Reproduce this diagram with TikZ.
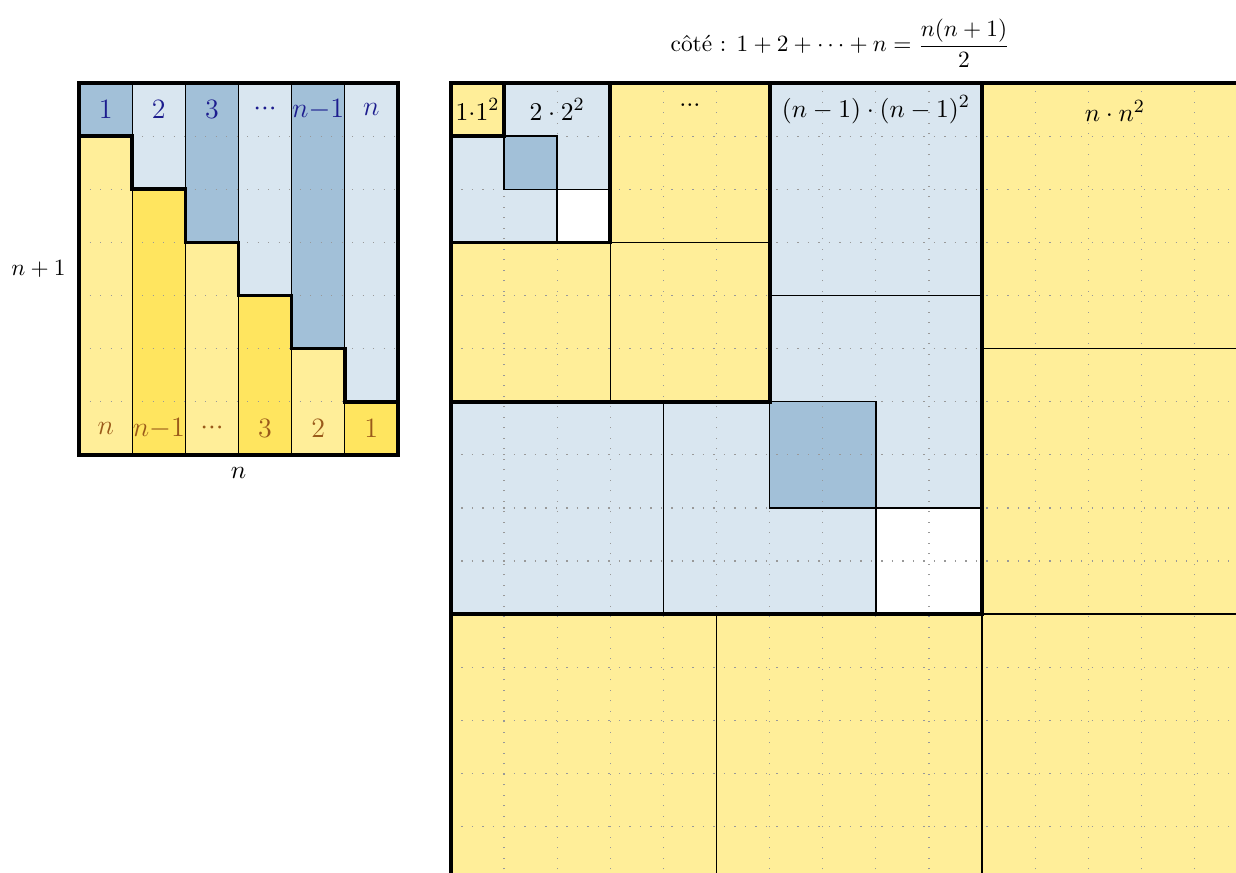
\documentclass[tikz,border=0pt]{standalone}
\usepackage{fontspec}
\usepackage{amsmath}
\usepackage{amssymb}

\definecolor{bleuclair}{HTML}{D9E6F0}
\definecolor{bleufonce}{HTML}{A2C0D8}
\definecolor{jauneclair}{HTML}{FFEE99}
\definecolor{jaunefonce}{HTML}{FFE55F}
\definecolor{textebleu}{HTML}{1C1C8E}
\definecolor{textebrun}{HTML}{9A5A1A}

\newcommand{\pointsp}{{\cdot}{\cdot}{\cdot}}

\begin{document}
\begin{tikzpicture}[scale=0.8,
        trait/.style={line width=1.6pt},
        fin/.style={line width=0.6pt},
        grille/.style={gray!80, loosely dotted, line width=0.5pt},
        etiq/.style={font=\fontsize{10.95}{13}\selectfont}]
        \useasboundingbox (-8.49,-14.86) rectangle (14.78,1.563);

        % Rectangle n x (n+1) : colonnes bleues et jaunes
        \foreach \i/\cb/\cj in {1/bleufonce/jauneclair, 2/bleuclair/jaunefonce,
                3/bleufonce/jauneclair, 4/bleuclair/jaunefonce,
                5/bleufonce/jauneclair, 6/bleuclair/jaunefonce} {
            \fill[\cb] (\i-8,0) rectangle (\i-7,-\i);
            \fill[\cj] (\i-8,-\i) rectangle (\i-7,-7);
        }
        \draw[grille] (-7,-7) grid (-1,0);
        \foreach \x in {-6,...,-2}
            \draw[fin] (\x,0) -- (\x,-7);
        % Escalier
        \draw[trait] (-7,-1) -- (-6,-1) -- (-6,-2) -- (-5,-2) -- (-5,-3) -- (-4,-3)
            -- (-4,-4) -- (-3,-4) -- (-3,-5) -- (-2,-5) -- (-2,-6) -- (-1,-6);
        \draw[trait] (-7,-7) rectangle (-1,0);

        % Texte des colonnes
        \foreach \i/\h/\b in {1/1/n, 2/2/n{-}1, 3/3/\pointsp, 4/\pointsp/3, 5/n{-}1/2, 6/n/1} {
            \node[textebleu, font=\large] (haut\i) at (\i-7.5,-0.5) {$\h$};
            \node[textebrun, font=\large] (bas\i) at (\i-7.5,-6.5) {$\b$};
        }
        \node[anchor=east] (cotegauche) at (-7.1,-3.5) {$n+1$};
        \node[etiq, anchor=north] (cotebas) at (-4,-7.08) {$n$};

        % Grand carre : remplissages
        \fill[jauneclair] (0,0) rectangle (15,-15);
        \fill[bleuclair] (0,0) rectangle (10,-10);
        \fill[jauneclair] (0,0) rectangle (6,-6);
        \fill[bleuclair] (0,0) rectangle (3,-3);
        \fill[jauneclair] (0,0) rectangle (1,-1);
        \fill[bleufonce] (1,-1) rectangle (2,-2); % recouvrement
        \fill[white] (2,-2) rectangle (3,-3); % trou
        \fill[bleufonce] (6,-6) rectangle (8,-8); % recouvrement
        \fill[white] (8,-8) rectangle (10,-10); % trou
        \draw[grille] (0,-15) grid (15,0);

        % Carres k x k
        \draw[fin] (1,0) rectangle (3,-2);
        \draw[fin] (0,-1) rectangle (2,-3);
        \draw[fin] (3,0) rectangle (6,-3);
        \draw[fin] (0,-3) rectangle (3,-6);
        \draw[fin] (3,-3) rectangle (6,-6);
        \draw[fin] (6,0) rectangle (10,-4);
        \draw[fin] (6,-4) rectangle (10,-8);
        \draw[fin] (0,-6) rectangle (4,-10);
        \draw[fin] (4,-6) rectangle (8,-10);
        \draw[fin] (10,0) rectangle (15,-5);
        \draw[fin] (10,-5) rectangle (15,-10);
        \draw[fin] (10,-10) rectangle (15,-15);
        \draw[fin] (0,-10) rectangle (5,-15);
        \draw[fin] (5,-10) rectangle (10,-15);

        % Bords epais
        \foreach \c in {1,3,6,10,15}
            \draw[trait] (0,0) rectangle (\c,-\c);

        % Etiquettes
        \node[etiq] (un) at (0.5,-0.5) {$1{\cdot}1^2$};
        \node[etiq] (deux) at (2,-0.5) {$2\cdot 2^2$};
        \node[etiq] (trois) at (4.5,-0.42) {$\pointsp$};
        \node[etiq] (avantder) at (8,-0.5) {$(n-1)\cdot(n-1)^2$};
        \node[etiq] (dernier) at (12.5,-0.52) {$n\cdot n^2$};
        \node (titre) at (7.33,0.75) {côté : $1+2+\cdots+n=\dfrac{n(n+1)}{2}$};
    \end{tikzpicture}
\end{document}
